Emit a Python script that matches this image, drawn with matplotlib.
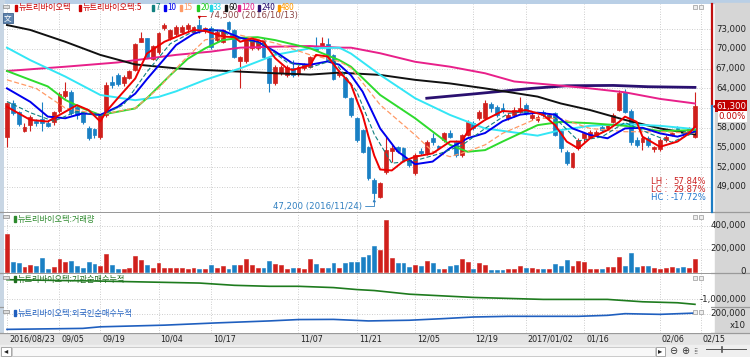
import matplotlib
matplotlib.use("Agg")
import matplotlib.pyplot as plt
import matplotlib.transforms as mtransforms
from matplotlib import font_manager
from matplotlib.font_manager import FontProperties
from matplotlib.patches import Rectangle
import numpy as np

W, H = 750, 357

# ---- daily candles (one per trading day) ----
opens = [56650, 61800, 60450, 57550, 58400, 59000, 59350, 58700, 58950, 60550,
         62900, 63400, 61200, 60200, 57900, 57800, 56650, 59950, 65000, 66050,
         64750, 65650, 66800, 71100, 71600, 68500, 69600, 73150, 71600, 72250,
         72650, 73050, 72650, 73650, 72750, 73250, 71350, 71100, 74150, 72900,
         68100, 68100, 70100, 70100, 71350, 68600, 64750, 66300, 66050, 67050,
         66150, 67050, 67300, 70350, 70350, 70700, 69100, 66050, 65650, 62500,
         59450, 57650, 55100, 50050, 47500, 51300, 54400, 55000, 54850, 53100,
         51050, 54500, 54100, 56400, 55150, 56150, 57150, 55900, 53850, 56900,
         58700, 59450, 59450, 61600, 61200, 61050, 59450, 59950, 60450, 61450,
         59450, 59200, 60450, 59450, 60200, 57500, 54350, 52100, 54850, 56400,
         56650, 56900, 58150, 57900, 58900, 60700, 63500, 60550, 56150, 55900,
         56400, 54750, 54750, 56150, 56900, 57900, 57500, 57500, 56650]
highs = [62000, 62200, 60600, 58700, 59950, 59300, 61950, 59000, 60550, 63400,
         65000, 63700, 61500, 60500, 58200, 58000, 60100, 64900, 65900, 66300,
         66000, 66800, 70900, 72650, 71700, 70600, 72600, 73900, 73100, 73600,
         73700, 74000, 73500, 74500, 73400, 73500, 72900, 73100, 74300, 73100,
         69000, 71800, 71500, 71300, 71600, 68800, 67500, 67500, 67500, 68300,
         67500, 67800, 69000, 71900, 71900, 71600, 69300, 66800, 65800, 62700,
         59600, 57800, 55300, 50300, 49800, 56600, 55400, 55300, 55100, 53400,
         54100, 54900, 56100, 57150, 55400, 57400, 57650, 56100, 57100, 59200,
         59000, 60700, 62250, 62000, 61400, 61700, 60200, 61200, 62750, 61700,
         60200, 59900, 60700, 60200, 60400, 57700, 54600, 54300, 56400, 57400,
         57600, 57600, 58400, 58600, 60200, 63750, 63900, 60800, 56600, 56700,
         56700, 55300, 56400, 56900, 57400, 58200, 57700, 58100, 63400]
lows = [55100, 59900, 58300, 57400, 57500, 58300, 57500, 58100, 58400, 60300,
        62600, 59900, 59400, 58600, 56150, 56400, 56300, 59700, 64100, 64400,
        64400, 65400, 66600, 71000, 68700, 68300, 69300, 72900, 71400, 72000,
        72400, 72800, 72400, 72500, 72500, 70000, 71000, 70900, 72800, 68600,
        64100, 67900, 69800, 69900, 68600, 63500, 64500, 66000, 65800, 65800,
        65900, 66800, 67100, 69700, 70100, 68100, 65200, 65800, 62500, 59700,
        55900, 54100, 50000, 47200, 47300, 51000, 52800, 54200, 52900, 52000,
        50800, 53900, 53900, 55400, 54700, 55900, 56400, 53600, 53600, 56700,
        57700, 59200, 59200, 60450, 59700, 60300, 59200, 59700, 60200, 59900,
        59200, 58900, 59700, 59200, 56700, 54350, 52350, 51900, 54600, 55900,
        56400, 56700, 57400, 57700, 58700, 60500, 60200, 55400, 55100, 54600,
        55100, 54350, 54500, 55900, 56700, 57300, 56900, 57300, 56400]
closes = [61700, 60200, 58550, 58150, 59700, 58800, 58700, 58200, 60350, 63100,
          63650, 60200, 59950, 58950, 56500, 56900, 59950, 64500, 64500, 64600,
          65800, 66650, 70700, 71600, 68850, 70400, 72400, 73650, 72900, 73400,
          73400, 73650, 73300, 72900, 73150, 70350, 72650, 72900, 73050, 68850,
          68850, 71600, 71200, 71100, 68850, 64750, 67300, 67300, 67300, 66050,
          67300, 67550, 68850, 69850, 70850, 68300, 65450, 66550, 62750, 59950,
          56150, 54350, 50300, 48000, 49550, 54600, 54900, 54500, 53100, 52300,
          53850, 54100, 55900, 55900, 54900, 57150, 56650, 53850, 56900, 58950,
          57900, 60450, 61700, 61050, 59950, 60550, 59950, 60700, 60950, 60200,
          59950, 59700, 59950, 59950, 56900, 54950, 52600, 54100, 56150, 57150,
          57400, 57400, 57650, 58400, 59950, 63250, 60450, 55900, 55400, 56500,
          55400, 55100, 56150, 56650, 57150, 57500, 57150, 57900, 61300]
volumes = [332000, 85000, 77000, 36000, 57000, 48000, 115000, 22000, 39000, 109000,
           85000, 91000, 48000, 33000, 85000, 65000, 51000, 158000, 57000, 22000,
           22000, 28000, 138000, 100000, 57000, 33000, 74000, 33000, 33000, 33000,
           28000, 19000, 33000, 22000, 22000, 57000, 28000, 51000, 22000, 57000,
           57000, 112000, 57000, 33000, 33000, 91000, 65000, 57000, 22000, 28000,
           28000, 22000, 109000, 65000, 33000, 28000, 74000, 33000, 74000, 85000,
           85000, 129000, 146000, 222000, 193000, 454000, 115000, 75000, 75000, 38000,
           60000, 48000, 91000, 74000, 22000, 19000, 48000, 57000, 112000, 85000,
           19000, 74000, 57000, 13000, 13000, 13000, 19000, 22000, 48000, 33000,
           28000, 22000, 22000, 22000, 65000, 48000, 100000, 48000, 91000, 82000,
           22000, 19000, 19000, 42000, 42000, 124000, 51000, 164000, 42000, 48000,
           51000, 28000, 19000, 33000, 42000, 33000, 42000, 33000, 112000]

# ---- moving averages, read at a few candles each ----
ma5_idx = [0, 2, 4, 7, 10, 12, 14, 16, 17, 19, 22, 24, 27, 30, 32, 34, 37, 39, 40, 42,
           44, 46, 48, 49, 52, 53, 55, 57, 59, 60, 61, 62, 63, 64, 66, 68, 70, 73, 76, 78,
           79, 82, 85, 87, 89, 92, 94, 96, 98, 100, 103, 105, 106, 108, 109, 112, 115, 117, 118]
ma5_val = [61200, 60200, 59200, 58950, 60450, 61450, 60700, 58950, 60450, 62500, 65500,
           69300, 71100, 72200, 72900, 72750, 71900, 71800, 71100, 71600, 71100, 68600,
           67050, 66800, 67550, 69100, 68850, 66550, 64600, 62200, 59950, 56700, 53750,
           51650, 51500, 52900, 53600, 54100, 55900, 55900, 57400, 59200, 60550, 60450,
           60700, 59950, 58400, 55900, 54850, 56400, 57650, 58900, 59700, 58900, 56650,
           55100, 55900, 57150, 58150]
ma7_idx = [0, 4, 8, 12, 16, 20, 24, 28, 32, 36, 40, 44, 48, 52, 56, 60, 63, 66, 70, 74,
           78, 82, 86, 90, 94, 98, 102, 106, 110, 114, 118]
ma7_val = [62000, 60300, 59000, 60500, 59800, 61500, 66500, 70800, 72700, 72900, 71500,
           70700, 68000, 67200, 68300, 63500, 57000, 52600, 53000, 54000, 55300, 57900,
           60200, 60500, 59500, 56000, 56600, 58800, 57200, 55800, 57300]
ma10_idx = [0, 4, 7, 10, 13, 16, 19, 22, 24, 27, 29, 32, 34, 37, 40, 43, 46, 49, 52, 55,
            57, 59, 61, 64, 67, 70, 73, 76, 79, 82, 85, 88, 91, 94, 97, 100, 103, 106,
            109, 112, 115, 118]
ma10_val = [64000, 61950, 59700, 59450, 60200, 59950, 61200, 63200, 65400, 68500, 70600,
            72300, 72900, 72800, 71700, 71100, 69600, 67800, 67600, 68100, 67600, 66000,
            63500, 57900, 54400, 52450, 52850, 54900, 56400, 57200, 59000, 60000, 60300,
            60000, 57900, 56900, 56400, 57900, 58000, 57150, 56650, 57400]
ma15_idx = [0, 5, 10, 16, 22, 26, 30, 34, 40, 46, 52, 57, 59, 64, 70, 73, 76, 79, 82, 85,
            91, 95, 100, 106, 112, 118]
ma15_val = [65300, 64000, 61000, 60000, 61000, 64000, 68000, 71400, 72100, 70900, 69100,
            68100, 67100, 61500, 56900, 54400, 53600, 54400, 55400, 57150, 59450, 59400,
            57900, 57400, 57400, 57150]
ma20_idx = [0, 4, 7, 10, 13, 16, 19, 22, 24, 28, 31, 34, 37, 40, 43, 46, 52, 57, 59, 64,
            70, 76, 79, 82, 85, 91, 95, 100, 106, 112, 118]
ma20_val = [66650, 65300, 64300, 62250, 60950, 59950, 60450, 60950, 62500, 66000, 68500,
            70100, 71350, 71700, 71800, 71350, 70100, 68300, 67300, 63000, 59450, 55400,
            54350, 54600, 55900, 58400, 58900, 58700, 58300, 57500, 57650]
ma33_idx = [0, 4, 10, 16, 22, 26, 29, 34, 40, 46, 52, 57, 59, 64, 70, 76, 82, 91, 95, 100,
            106, 112, 118]
ma33_val = [70200, 68300, 65800, 63000, 62200, 62700, 63550, 65300, 67050, 69100, 70100,
            70200, 69300, 66050, 62500, 59950, 57900, 56800, 57650, 58300, 58550, 58300,
            57800]
ma60_idx = [0, 4, 10, 16, 22, 29, 34, 40, 46, 52, 57, 59, 64, 70, 76, 82, 91, 95, 100,
            106, 112, 118]
ma60_val = [73650, 72900, 71100, 69100, 67650, 67050, 66800, 66550, 66300, 66100, 66400,
            66300, 66050, 65300, 64750, 64000, 62750, 61700, 60700, 59200, 57900, 57000]
ma120_idx = [0, 10, 19, 29, 35, 40, 46, 52, 57, 59, 64, 70, 76, 82, 87, 94, 100, 106,
             112, 118]
ma120_val = [66650, 67300, 67950, 69100, 69600, 70200, 70350, 70450, 70200, 70200, 69350,
             68050, 67300, 66300, 65050, 64500, 64000, 63400, 62400, 61700]
ma240_idx = [72, 80, 90, 96, 104, 110, 118]
ma240_val = [62500, 63150, 64000, 64400, 64450, 64250, 64150]

# ---- cumulative net buying panels ----
inst_idx = [0, 16, 33, 39, 45, 50, 56, 60, 63, 69, 80, 92, 103, 109, 115, 118]
inst_val = [-200000, -256000, -336000, -428000, -468000, -468000, -520000, -600000,
            -640000, -788000, -920000, -1000000, -1000000, -1096000, -1136000, -1200000]
frn_idx = [0, 13, 16, 27, 36, 45, 50, 56, 62, 69, 75, 80, 86, 98, 103, 106, 112, 118]
frn_val = [0, 12500, 32500, 53750, 82500, 107500, 125000, 127000, 107500, 116250, 137500,
           157500, 166250, 166250, 178750, 200000, 191250, 207500]

# ---- labels ----
tick_idx = [0, 9, 16, 26, 35, 50, 60, 70, 80, 89, 99, 112, 119]
tick_lbl = ["2016/08/23", "09/05", "09/19", "10/04", "10/17", "11/07", "11/21",
            "12/05", "12/19", "2017/01/02", "01/16", "02/06", "02/15"]
price_grid = [49000, 52000, 55000, 58000, 61000, 64000, 67000, 70000, 73000]
price_lbls = [49000, 52000, 55000, 58000, 64000, 67000, 70000, 73000]
last_price = 61300
hi_idx, hi_price, hi_text = 33, 74500, "74,500 (2016/10/13)"
lo_idx, lo_price, lo_text = 63, 47200, "47,200 (2016/11/24)"
stats = [("LH :", "57.84%"), ("LC :", "29.87%"), ("HC :", "-17.72%")]

RED = "#D0201C"
BLUE = "#1A80C4"
GRID = "#BDBDBD"
KFONT = ["Noto Sans CJK KR", "DejaVu Sans"]

# narrow face for the numbers, like the terminal's bitmap font
narrow = [f.fname for f in font_manager.fontManager.ttflist
          if f.fname.endswith(("LiberationSansNarrow-Regular.ttf", "DejaVuSansCondensed.ttf"))]


def nfp(size=6.8):
    if narrow:
        return FontProperties(fname=sorted(narrow)[0], size=size)
    return FontProperties(family="Liberation Sans", size=size * 0.92)


def pxrect(x0, y0, x1, y1):
    return [x0 / W, 1 - y1 / H, (x1 - x0) / W, (y1 - y0) / H]


fig = plt.figure(figsize=(W / 100, H / 100), dpi=100)
fig.patch.set_facecolor("white")

# background strips (pixel coords)
bg = fig.add_axes([0, 0, 1, 1], zorder=-10)
bg.set_xlim(0, W)
bg.set_ylim(H, 0)
bg.axis("off")
bg.add_patch(Rectangle((0, 0), W, 3, color="#B9CFE6"))
bg.add_patch(Rectangle((0, 0), 3.5, 345, color="#C8D6E4"))
bg.add_patch(Rectangle((715, 3), 35, 330, color="#D6D6D6"))
bg.add_patch(Rectangle((0, 333), W, 12, color="#E4E4E4"))
for yy in (211.5, 273, 306.5, 333):
    bg.plot([0, W], [yy, yy], color="#9A9A9A", lw=0.9)

ax_p = fig.add_axes(pxrect(4, 4, 711, 211.5))
ax_v = fig.add_axes(pxrect(4, 212.5, 711, 273))
ax_i = fig.add_axes(pxrect(4, 273.5, 711, 306.5))
ax_f = fig.add_axes(pxrect(4, 307, 711, 333))

xlim = (-0.51, 120.75)
for ax in (ax_p, ax_v, ax_i, ax_f):
    ax.set_xlim(*xlim)
    ax.set_xticks([])
    ax.set_yticks([])
    for s in ax.spines.values():
        s.set_visible(False)
    ax.set_facecolor("white")
    for t in tick_idx:
        ax.axvline(t, color=GRID, lw=0.6, ls=(0, (1, 2)), zorder=0)

ax_p.set_ylim(45250, 76850)
ax_v.set_ylim(-13000, 517600)
ax_i.set_ylim(-1288000, 52000)
ax_f.set_ylim(-46250, 285000)

x = np.arange(len(closes))
o, h, l, c = (np.array(a, float) for a in (opens, highs, lows, closes))
cols = np.where(c >= o, RED, BLUE)

# price panel
for p in price_grid:
    ax_p.axhline(p, color=GRID, lw=0.6, ls=(0, (1, 2)), zorder=0)
ax_p.vlines(x, l, h, colors=cols, lw=0.8, zorder=2)
ax_p.bar(x, np.abs(c - o), bottom=np.minimum(o, c), width=0.66, color=cols,
         edgecolor=cols, lw=0.5, zorder=3)

ma_lines = [
    (ma240_idx, ma240_val, "#2A1070", 2.0, "-"),
    (ma120_idx, ma120_val, "#E8208A", 1.4, "-"),
    (ma60_idx, ma60_val, "#111111", 1.4, "-"),
    (ma33_idx, ma33_val, "#33E6F5", 1.4, "-"),
    (ma20_idx, ma20_val, "#2EDB2E", 1.4, "-"),
    (ma15_idx, ma15_val, "#FF9A66", 0.9, (0, (4, 2))),
    (ma10_idx, ma10_val, "#0000EE", 1.4, "-"),
    (ma7_idx, ma7_val, "#108080", 0.8, (0, (4, 2))),
    (ma5_idx, ma5_val, "#EE0000", 1.4, "-"),
]
for xi, yi, col, lw, ls in ma_lines:
    ax_p.plot(xi, yi, color=col, lw=lw, ls=ls, zorder=4, solid_joinstyle="round")

ax_p.annotate(hi_text, xy=(hi_idx, hi_price), xytext=(7, 2.6), textcoords="offset points",
              ha="left", va="center", fontproperties=nfp(), color="#8C4646",
              arrowprops=dict(arrowstyle="-|>", color="#CC0000", lw=0.6, mutation_scale=4,
                              shrinkA=0, shrinkB=0,
                              connectionstyle="angle,angleA=180,angleB=90,rad=0"),
              zorder=6)
ax_p.annotate(lo_text, xy=(lo_idx, lo_price), xytext=(-8.5, -5.4), textcoords="offset points",
              ha="right", va="center", fontproperties=nfp(), color="#2F7FC0",
              arrowprops=dict(arrowstyle="-|>", color="#2F7FC0", lw=0.6, mutation_scale=4,
                              shrinkA=0, shrinkB=0,
                              connectionstyle="angle,angleA=0,angleB=90,rad=0"),
              zorder=6)

# right-hand scale
tr_p = mtransforms.blended_transform_factory(ax_p.transAxes, ax_p.transData)
lab_x = (746 - 4) / 707
for p in price_lbls:
    ax_p.text(lab_x, p, f"{p:,}", transform=tr_p, ha="right", va="center",
              fontproperties=nfp(), color="#222222", clip_on=False)
ax_p.text(lab_x, last_price, f"{last_price:,}", transform=tr_p, ha="right", va="center",
          fontproperties=nfp(), color="white", clip_on=False,
          bbox=dict(boxstyle="square,pad=0.15", fc="#C00000", ec="none"))
ax_p.annotate("0.00%", xy=(lab_x, last_price), xycoords=tr_p, xytext=(0, -7.6),
              textcoords="offset points", ha="right", va="center", fontproperties=nfp(),
              color="#C00000", annotation_clip=False,
              bbox=dict(boxstyle="square,pad=0.12", fc="white", ec="none"))
ax_p.plot([(716 - 4) / 707], [last_price], marker="<", color="#C00000", ms=4.5,
          transform=tr_p, clip_on=False)
ax_p.plot([1.001, 1.001], [last_price, 76850], transform=tr_p, color="#C01010", lw=1.6,
          clip_on=False, zorder=7)
ax_p.plot([1.001, 1.001], [45250, last_price], transform=tr_p, color="#1C7CC4", lw=1.6,
          clip_on=False, zorder=7)

stat_cols = ["#CC2222", "#CC2222", "#2277CC"]
for k, ((lab, val), col) in enumerate(zip(stats, stat_cols)):
    ax_p.text((651 - 4) / 707, 0.143 - k * 0.0385, lab, transform=ax_p.transAxes,
              ha="left", va="center", fontproperties=nfp(), color=col)
    ax_p.text((706 - 4) / 707, 0.143 - k * 0.0385, val, transform=ax_p.transAxes,
              ha="right", va="center", fontproperties=nfp(), color=col)

# volume panel
for v in (200000, 400000):
    ax_v.axhline(v, color=GRID, lw=0.6, ls=(0, (1, 2)), zorder=0)
ax_v.bar(x, volumes, width=0.66, color=cols, edgecolor=cols, lw=0.4, zorder=3)
tr_v = mtransforms.blended_transform_factory(ax_v.transAxes, ax_v.transData)
for v in (400000, 200000, 0):
    ax_v.text(lab_x, v, f"{v:,}", transform=tr_v, ha="right", va="center",
              fontproperties=nfp(), color="#222222", clip_on=False)

# institution cumulative
ax_i.axhline(-1000000, color=GRID, lw=0.6, ls=(0, (1, 2)), zorder=0)
ax_i.plot(inst_idx, inst_val, color="#1E7B1E", lw=1.2, zorder=3)
tr_i = mtransforms.blended_transform_factory(ax_i.transAxes, ax_i.transData)
ax_i.text(lab_x, -1000000, "-1,000,000", transform=tr_i, ha="right", va="center",
          fontproperties=nfp(), color="#222222", clip_on=False)

# foreign cumulative
ax_f.axhline(200000, color=GRID, lw=0.6, ls=(0, (1, 2)), zorder=0)
ax_f.plot(frn_idx, frn_val, color="#1F5FBF", lw=1.2, zorder=3)
tr_f = mtransforms.blended_transform_factory(ax_f.transAxes, ax_f.transData)
ax_f.text(lab_x, 200000, "200,000", transform=tr_f, ha="right", va="center",
          fontproperties=nfp(), color="#222222", clip_on=False)
ax_f.annotate("x10", xy=(lab_x, 200000), xycoords=tr_f, xytext=(0, -8.6),
              textcoords="offset points", ha="right", va="center", fontproperties=nfp(),
              color="#222222", annotation_clip=False)

# date labels
for t, lb in zip(tick_idx, tick_lbl):
    ax_f.annotate(lb, xy=(t, 0), xycoords=("data", "axes fraction"), xytext=(1.4, -4.4),
                  textcoords="offset points", ha="left", va="center", fontproperties=nfp(6.4),
                  color="#222222", annotation_clip=False)

# overlay: legends, small icons, scrollbar (pixel coords)
ov = fig.add_axes([0, 0, 1, 1], zorder=20)
ov.set_xlim(0, W)
ov.set_ylim(H, 0)
ov.axis("off")
ov.patch.set_alpha(0)

legend_items = [("뉴트리바이오텍", "#CC0000", 15), ("뉴트리바이오텍:5", "#CC0000", 79),
                ("7", "#108080", 152), ("10", "#0000EE", 164), ("15", "#FF9A66", 180),
                ("20", "#22CC22", 197), ("33", "#22D6E6", 210), ("60", "#111111", 225),
                ("120", "#E0208A", 238), ("240", "#2A1070", 258), ("480", "#FF9900", 278)]
for txt, col, mx in legend_items:
    ov.add_patch(Rectangle((mx, 4.8), 1.8, 6, color=col))
    ov.text(mx + 3.2, 7.8, txt, ha="left", va="center", fontsize=5.9, family=KFONT, color=col)

panel_legends = [("뉴트리바이오텍:거래량", "#2E8B2E", 219.3),
                 ("뉴트리바이오텍:기관순매수누적", "#1E6E1E", 279.3),
                 ("뉴트리바이오텍:외국인순매수누적", "#1F5FBF", 313.3)]
for txt, col, yy in panel_legends:
    ov.add_patch(Rectangle((14, yy - 3), 1.8, 6, color=col))
    ov.text(17.5, yy, txt, ha="left", va="center", fontsize=5.9, family=KFONT, color=col)

for yy in (5, 215, 276, 310):
    ov.add_patch(Rectangle((2.5, yy), 6, 3, fc="#DDDDDD", ec="#8A8A8A", lw=0.5))
    ov.add_patch(Rectangle((693, yy), 4, 4, fc="#EEEEEE", ec="#9A9A9A", lw=0.5))
    ov.add_patch(Rectangle((699, yy), 4, 4, fc="#EEEEEE", ec="#9A9A9A", lw=0.5))
ov.add_patch(Rectangle((2.5, 13), 10, 10, fc="#5E84AE", ec="#3F628C", lw=0.6))
ov.text(7.5, 18.2, "文", ha="center", va="center", fontsize=5.5, family=KFONT, color="white")

ov.add_patch(Rectangle((0, 345), W, 12, color="#EFEFEF"))
ov.add_patch(Rectangle((1, 346.5), 10, 9, fc="white", ec="#9A9A9A", lw=0.6))
ov.text(6, 351, "◂", ha="center", va="center", fontsize=6, color="#222222")
ov.add_patch(Rectangle((12, 346.5), 643, 9, fc="#F8F8F8", ec="#C4C4C4", lw=0.6))
ov.add_patch(Rectangle((656, 346.5), 9, 9, fc="white", ec="#9A9A9A", lw=0.6))
ov.text(660.5, 351, "▸", ha="center", va="center", fontsize=6, color="#222222")
ov.text(673, 351, "⊖", ha="center", va="center", fontsize=7, color="#333333")
ov.text(685, 351, "⊕", ha="center", va="center", fontsize=7, color="#333333")
ov.text(696, 351, "⁞⁞", ha="center", va="center", fontsize=6, color="#333333")
ov.plot([706, 746], [349, 349], color="#555555", lw=0.7)
ov.plot([722, 722], [347, 352], color="#555555", lw=1.2)

fig.savefig("out.png", dpi=100)
